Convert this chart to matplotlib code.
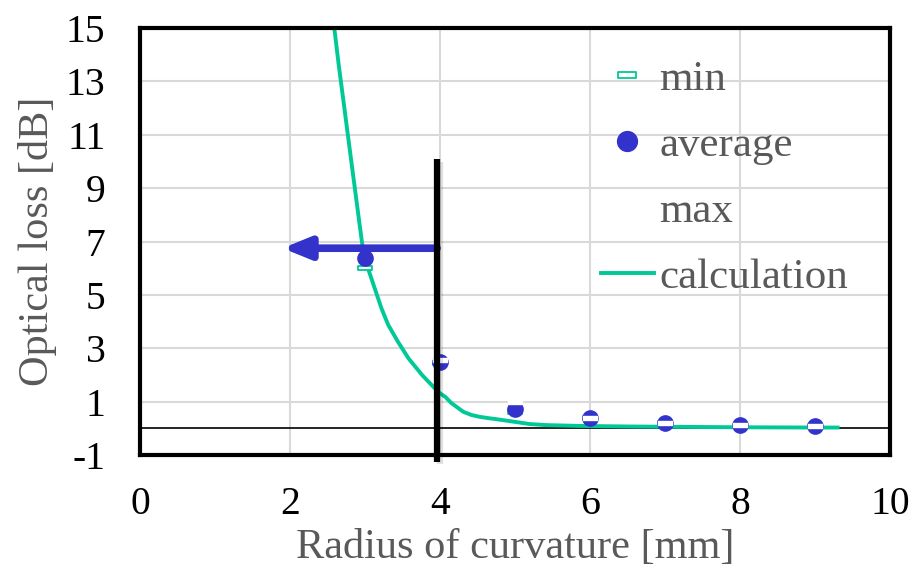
import matplotlib
matplotlib.use("Agg")
import matplotlib.pyplot as plt
import matplotlib.patheffects as pe
from matplotlib.path import Path

plt.rcParams['font.family'] = ['Liberation Serif', 'DejaVu Serif']

# Data
radius = [3, 4, 5, 6, 7, 8, 9]
loss_min = [6.0, 2.45, 0.62, 0.37, 0.2, 0.1, 0.08]
loss_avg = [6.38, 2.5, 0.74, 0.38, 0.21, 0.11, 0.09]
loss_max = [6.75, 2.55, 0.98, 0.38, 0.21, 0.11, 0.09]

calc_x = [2.59, 2.65, 2.72, 2.78, 2.85, 2.92, 2.97, 3.04, 3.13, 3.22, 3.31,
          3.44, 3.58, 3.76, 3.93, 4.0, 4.07, 4.15, 4.31, 4.42, 4.53, 4.65,
          4.76, 4.98, 5.2, 5.42, 5.87, 6.5, 7.0, 8.0, 9.0, 9.3]
calc_y = [15.0, 13.6, 12.1, 10.8, 9.3, 7.8, 6.75, 5.99, 5.24, 4.49, 3.87,
          3.24, 2.62, 2.0, 1.5, 1.31, 1.18, 0.95, 0.62, 0.5, 0.43, 0.38,
          0.34, 0.25, 0.16, 0.12, 0.09, 0.07, 0.06, 0.04, 0.03, 0.03]

xticks = [0, 2, 4, 6, 8, 10]
yticks = [-1, 1, 3, 5, 7, 9, 11, 13, 15]

threshold_x = 3.96
threshold_top = 10.1
arrow_y = 6.75
arrow_tip = 1.9

teal = '#00c896'
blue = '#3333cc'
gray = '#595959'

fig = plt.figure(figsize=(9.17, 5.72), dpi=100)
ax = fig.add_axes([0.1527, 0.2045, 0.8179, 0.7465])

rect = Path([(-1, -0.35), (1, -0.35), (1, 0.35), (-1, 0.35), (-1, -0.35)],
            [Path.MOVETO, Path.LINETO, Path.LINETO, Path.LINETO, Path.CLOSEPOLY])

ax.set_xlim(0, 10)
ax.set_ylim(-1, 15)
ax.set_xticks(xticks)
ax.set_yticks(yticks)
ax.set_xticklabels([str(v) for v in xticks])
ax.set_yticklabels([str(v) for v in yticks])
ax.grid(True, color='#d9d9d9', lw=1.5, zorder=0)
ax.set_axisbelow(True)
ax.tick_params(length=0, labelsize=28.5, colors='black')
ax.tick_params(axis='x', pad=22)
ax.tick_params(axis='y', pad=25)
for s in ax.spines.values():
    s.set_linewidth(3)
    s.set_color('black')
    s.set_zorder(10)

ax.axhline(0, color='black', lw=1.2, zorder=2)

ax.plot(calc_x, calc_y, color=teal, lw=2.8, zorder=3, label='calculation',
        solid_joinstyle='round')

ax.plot(radius, loss_min, ls='none', marker=rect, markersize=10, mfc='white', mec=teal,
        mew=1.3, zorder=4, label='min')
ax.plot(radius, loss_avg, ls='none', marker='o', markersize=11, mfc=blue, mec=blue,
        zorder=5, label='average')
ax.plot(radius, loss_max, ls='none', marker=rect, markersize=10, mfc='white', mec='white',
        mew=1.0, zorder=6, label='max')

# threshold line with shadow
ax.plot([threshold_x, threshold_x], [threshold_top, -1.25], color='black', lw=4.5,
        zorder=8, clip_on=False, solid_capstyle='butt',
        path_effects=[pe.SimpleLineShadow(offset=(2, -2), alpha=0.12), pe.Normal()])

ax.annotate('', xy=(arrow_tip, arrow_y), xytext=(threshold_x, arrow_y),
            arrowprops=dict(arrowstyle='-|>,head_length=1.6,head_width=0.65', lw=5.5,
                            color=blue, shrinkA=0, shrinkB=0,
                            path_effects=[pe.SimplePatchShadow(offset=(2, -3), alpha=0.15), pe.Normal()]),
            zorder=7)

h, l = ax.get_legend_handles_labels()
order = [l.index(n) for n in ['min', 'average', 'max', 'calculation']]
leg = ax.legend([h[i] for i in order], [l[i] for i in order], loc='upper right',
                bbox_to_anchor=(0.996, 1.017), frameon=False, fontsize=31, labelcolor=gray,
                labelspacing=0.63, handlelength=1.25, handletextpad=0.12, markerscale=1.3)

ax.set_xlabel('Radius of curvature [mm]', fontsize=30.5, color=gray, labelpad=4)
ax.set_ylabel('Optical loss [dB]', fontsize=30.5, color=gray, labelpad=6)

fig.savefig('out.png', dpi=100)
